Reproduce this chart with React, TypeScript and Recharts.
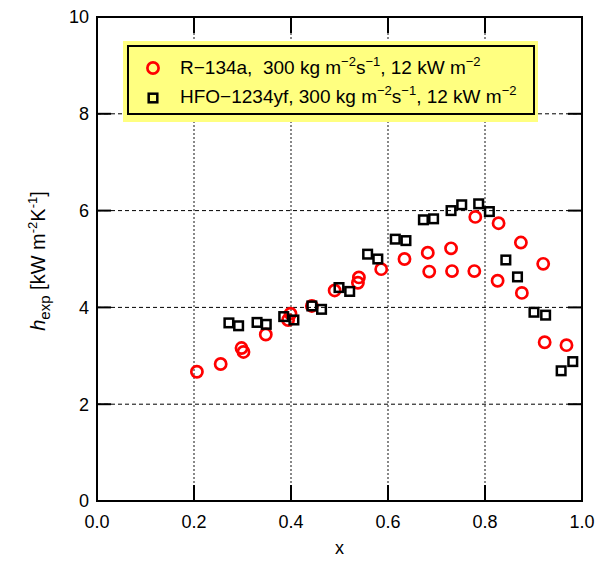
import React from 'react';
import {
  ScatterChart,
  Scatter,
  XAxis,
  YAxis,
  CartesianGrid,
  ReferenceLine,
  ReferenceArea,
  Legend,
} from 'recharts';

// axis ticks
const xTicks = [0, 0.2, 0.4, 0.6, 0.8, 1.0];
const yTicks = [0, 2, 4, 6, 8, 10];

// R-134a, 300 kg m-2 s-1, 12 kW m-2
const r134aX = [0.206, 0.255, 0.298, 0.302, 0.348, 0.394, 0.399, 0.443, 0.49, 0.538, 0.54, 0.586, 0.634,
  0.682, 0.685, 0.73, 0.732, 0.778, 0.78, 0.826, 0.828, 0.874, 0.876, 0.92, 0.923, 0.968];
const r134aH = [2.67, 2.83, 3.16, 3.08, 3.44, 3.74, 3.87, 4.03, 4.35, 4.51, 4.62, 4.79, 5.0,
  5.13, 4.74, 5.22, 4.75, 4.75, 5.87, 4.55, 5.74, 5.34, 4.3, 4.9, 3.28, 3.22];

// HFO-1234yf, 300 kg m-2 s-1, 12 kW m-2
const hfoX = [0.272, 0.292, 0.33, 0.349, 0.385, 0.406, 0.443, 0.463, 0.499, 0.521, 0.558, 0.579, 0.615,
  0.637, 0.673, 0.694, 0.73, 0.752, 0.787, 0.809, 0.843, 0.867, 0.901, 0.925, 0.957, 0.981];
const hfoH = [3.68, 3.62, 3.69, 3.65, 3.81, 3.74, 4.03, 3.96, 4.41, 4.33, 5.1, 5.0, 5.41,
  5.38, 5.81, 5.83, 6.0, 6.12, 6.14, 5.98, 4.98, 4.63, 3.9, 3.84, 2.69, 2.88];

const r134a = r134aX.map((x, i) => ({ x, h: r134aH[i] }));
const hfo = hfoX.map((x, i) => ({ x, h: hfoH[i] }));

const FONT = '"Liberation Sans", Arial, sans-serif';
// inward tick lengths in data units
const xTickLen = 0.33; // ~16px along y
const yTickLen = 0.029; // ~14px along x

const RedCircle = (props: any) => (
  <circle cx={props.cx} cy={props.cy} r={5.6} fill="none" stroke="#ff0000" strokeWidth={2.7} />
);

const BlackSquare = (props: any) => (
  <rect x={props.cx - 4.3} y={props.cy - 4.3} width={8.6} height={8.6} fill="none" stroke="#000" strokeWidth={2.5} />
);

const Sup = ({ children }: { children: React.ReactNode }) => (
  <span style={{ fontSize: 13, position: 'relative', top: -8 }}>{children}</span>
);

const rowStyle: React.CSSProperties = {
  position: 'relative',
  height: 29,
  lineHeight: '29px',
  paddingLeft: 51,
  whiteSpace: 'pre',
};

const renderLegend = () => (
  <div style={{ background: '#ffff80', padding: '4px 3px 7px 4px', boxSizing: 'border-box', width: 415, fontFamily: FONT, fontSize: 19, color: '#000', textAlign: 'left' }}>
    <div style={{ border: '2px solid #000', height: 70, boxSizing: 'border-box', paddingTop: 6 }}>
      <div style={rowStyle}>
        <svg width={16} height={16} style={{ position: 'absolute', left: 16, top: 7 }}>
          <circle cx={8} cy={8} r={5.6} fill="none" stroke="#ff0000" strokeWidth={2.7} />
        </svg>
        {'R−134a,  300 kg m'}<Sup>−2</Sup>{'s'}<Sup>−1</Sup>{', 12 kW m'}<Sup>−2</Sup>
      </div>
      <div style={rowStyle}>
        <svg width={16} height={16} style={{ position: 'absolute', left: 16, top: 8 }}>
          <rect x={3.7} y={3.7} width={8.6} height={8.6} fill="none" stroke="#000" strokeWidth={2.5} />
        </svg>
        {'HFO−1234yf, 300 kg m'}<Sup>−2</Sup>{'s'}<Sup>−1</Sup>{', 12 kW m'}<Sup>−2</Sup>
      </div>
    </div>
  </div>
);

const renderYLabel = (props: any) => {
  const { viewBox } = props;
  const x = viewBox.x + 45;
  const y = viewBox.y + viewBox.height / 2 + 2;
  return (
    <text x={x} y={y} transform={`rotate(-90 ${x} ${y})`} textAnchor="middle" fontFamily={FONT} fontSize={20} fill="#000">
      <tspan fontStyle="italic">h</tspan>
      <tspan fontSize={15} dy={5}>exp</tspan>
      <tspan dy={-5}> [kW m</tspan>
      <tspan fontSize={13} dy={-8}>-2</tspan>
      <tspan dy={8}>K</tspan>
      <tspan fontSize={13} dy={-8}>-1</tspan>
      <tspan dy={8}>]</tspan>
    </text>
  );
};

const renderXLabel = (props: any) => {
  const { viewBox } = props;
  return (
    <text x={viewBox.x + viewBox.width / 2} y={viewBox.y + 53} textAnchor="middle" fontFamily={FONT} fontSize={18} fill="#000">
      x
    </text>
  );
};

export default function App() {
  return (
    <div style={{ position: 'absolute', left: 0, top: 0, fontFamily: FONT }}>
      <ScatterChart width={597} height={566} margin={{ top: 17, right: 15, bottom: 0, left: 0 }}>
        <CartesianGrid horizontal={false} stroke="#888" strokeWidth={2} strokeDasharray="2 2" />
        <CartesianGrid vertical={false} stroke="#000" strokeWidth={1} strokeDasharray="4 3" />
        <XAxis
          type="number"
          dataKey="x"
          domain={[0, 1]}
          ticks={xTicks}
          tickFormatter={(v: number) => v.toFixed(1)}
          height={65}
          axisLine={false}
          tickLine={false}
          tickSize={6}
          tickMargin={8}
          tick={{ fill: '#000', fontSize: 18, fontFamily: FONT }}
          label={renderXLabel}
        />
        <YAxis
          type="number"
          dataKey="h"
          domain={[0, 10]}
          ticks={yTicks}
          width={97}
          axisLine={false}
          tickLine={false}
          tickSize={6}
          tickMargin={2}
          tick={{ fill: '#000', fontSize: 18, fontFamily: FONT }}
          label={renderYLabel}
        />
        {xTicks.map((t) => (
          <ReferenceLine key={'xb' + t} segment={[{ x: t, y: 0 }, { x: t, y: xTickLen }]} stroke="#000" strokeWidth={2} />
        ))}
        {xTicks.map((t) => (
          <ReferenceLine key={'xt' + t} segment={[{ x: t, y: 10 }, { x: t, y: 10 - xTickLen }]} stroke="#000" strokeWidth={2} />
        ))}
        {yTicks.map((t) => (
          <ReferenceLine key={'yl' + t} segment={[{ x: 0, y: t }, { x: yTickLen, y: t }]} stroke="#000" strokeWidth={2} />
        ))}
        {yTicks.map((t) => (
          <ReferenceLine key={'yr' + t} segment={[{ x: 1, y: t }, { x: 1 - yTickLen, y: t }]} stroke="#000" strokeWidth={2} />
        ))}
        <ReferenceArea x1={0} x2={1} y1={0} y2={10} fill="none" stroke="#000" strokeWidth={2} />
        <Scatter name="R-134a" data={r134a} shape={RedCircle} isAnimationActive={false} />
        <Scatter name="HFO-1234yf" data={hfo} shape={BlackSquare} isAnimationActive={false} />
        <Legend
          layout="horizontal"
          align="center"
          verticalAlign="middle"
          content={renderLegend}
          wrapperStyle={{ left: 123, top: 41, width: 415, height: 81 }}
        />
      </ScatterChart>
    </div>
  );
}
